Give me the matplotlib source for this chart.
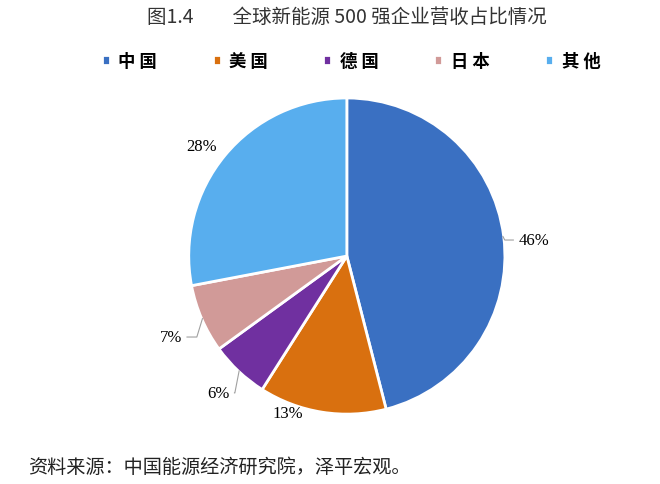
import numpy as np
import matplotlib
matplotlib.use("Agg")
import matplotlib.pyplot as plt

plt.rcParams['font.family'] = ['Noto Sans CJK SC', 'DejaVu Sans']

# datos
categorias = ["中 国", "美 国", "德 国", "日 本", "其 他"]
participacion = [46, 13, 6, 7, 28]
etiquetas = ["46%", "13%", "6%", "7%", "28%"]

colores = ["#3A70C2", "#D9700F", "#7030A0", "#D19A98", "#58AEEE"]
# posicion de la etiqueta: radio y desvio angular respecto al centro de la cuna
radio_etq = [1.187, 1.062, 1.188, 1.226, 1.152]
desvio_ang = [-2.3, -11.6, 0.0, 1.3, 2.4]
# angulo del tramo de la linea guia junto al pastel (None = sin guia)
angulo_guia = [117, None, 79, 73, None]

fig = plt.figure(figsize=(6.6, 4.85), dpi=100)
ax = fig.add_axes([0.286, 0.144, 0.479, 0.652])

cunas, _ = ax.pie(participacion, colors=colores, startangle=90,
                  counterclock=False, radius=1.0,
                  wedgeprops=dict(edgecolor="white", linewidth=2))
ax.set_xlim(-1, 1)
ax.set_ylim(-1, 1)
ax.set_aspect("equal")
ax.set_axis_off()

for w, txt, r, d, ag in zip(cunas, etiquetas, radio_etq, desvio_ang,
                            angulo_guia):
    medio = np.deg2rad((w.theta1 + w.theta2) / 2)
    ang = medio + np.deg2rad(d)
    tx, ty = r * np.cos(ang), r * np.sin(ang)
    if ag is not None:
        ax.annotate(txt, xy=(0.995 * np.cos(medio), 0.995 * np.sin(medio)),
                    xytext=(tx, ty), ha="center", va="center", fontsize=12,
                    family=["Liberation Serif"],
                    arrowprops=dict(arrowstyle="-", color="#A0A0A0",
                                    lw=0.8, shrinkA=1.5, shrinkB=0,
                                    connectionstyle="angle,angleA=0,angleB=%d"
                                    % ag))
    else:
        ax.text(tx, ty, txt, ha="center", va="center", fontsize=12,
                family=["Liberation Serif"])

fig.text(0.526, 0.964, "图1.4\u3000\u3000全球新能源 500 强企业营收占比情况",
         ha="center", va="center", fontsize=14, color="#333333")

fig.legend(cunas, categorias, loc="center", bbox_to_anchor=(0.532, 0.872),
           ncol=5, frameon=False, handlelength=0.45, handleheight=0.45,
           handletextpad=0.5, columnspacing=3.2,
           prop=dict(family=["Noto Sans CJK SC"], weight="bold", size=12.5))

fig.text(0.042, 0.037, "资料来源：中国能源经济研究院，泽平宏观。",
         ha="left", va="center", fontsize=13.8, color="#222222")

fig.savefig("out.png", dpi=100, facecolor="white")
